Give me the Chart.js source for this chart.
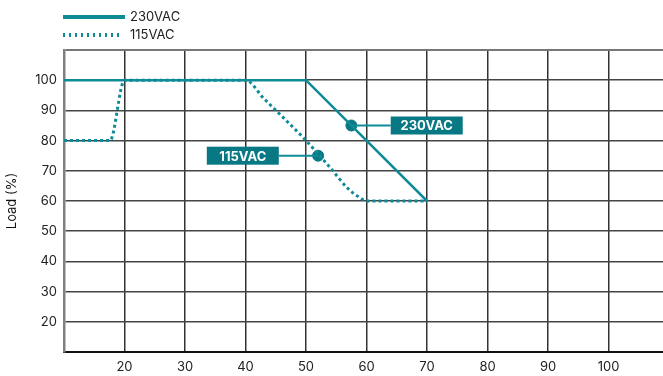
<!DOCTYPE html>
<html>
<head>
<meta charset="utf-8">
<script src="https://cdn.jsdelivr.net/npm/chart.js@4.4.0/dist/chart.umd.min.js"></script>
<style>
  html, body { margin: 0; padding: 0; background: #fff; }
  canvas { display: block; }
</style>
</head>
<body>
<canvas id="chart" width="663" height="376"></canvas>
<script>
// axis ticks
const xTicks = [20, 30, 40, 50, 60, 70, 80, 90, 100];
const yTicks = [20, 30, 40, 50, 60, 70, 80, 90, 100, 110];

// 230VAC derating curve
const temp230 = [10, 50, 70];
const load230 = [100, 100, 60];

// 115VAC derating curve
const temp115 = [10, 17.6, 20, 40, 43, 50, 54, 57, 59, 60, 70];
const load115 = [80, 80, 100, 100, 94, 80, 71, 64, 61, 60, 60];

// callouts: marker point, where the label box starts, label
const calloutNames = ["230VAC", "115VAC"];
const calloutX = [57.5, 52];
const calloutY = [85, 75];
const calloutBoxX = [64, 45.5];

const TEAL = "#0E8B97";
const BOX = "#077884";
const FONT = "Inter, 'DejaVu Sans', sans-serif";

const pts = (xs, ys) => xs.map((x, i) => ({ x: x, y: ys[i] }));

// connector lines from marker to label box
const connectors = calloutNames.map((name, i) => ({
  data: [{ x: calloutX[i], y: calloutY[i] }, { x: calloutBoxX[i], y: calloutY[i] }],
  borderColor: TEAL,
  borderWidth: 2,
  pointRadius: 0,
}));

// legend drawn top-left, stacked
const stackedLegend = {
  id: "stackedLegend",
  afterDraw(chart) {
    const ctx = chart.ctx;
    ctx.save();
    ctx.strokeStyle = TEAL;
    ctx.lineWidth = 4;
    ctx.beginPath();
    ctx.moveTo(63, 17);
    ctx.lineTo(125, 17);
    ctx.stroke();
    ctx.setLineDash([2, 4]);
    ctx.beginPath();
    ctx.moveTo(63, 35);
    ctx.lineTo(122, 35);
    ctx.stroke();
    ctx.setLineDash([]);
    ctx.fillStyle = "#222";
    ctx.font = "13px " + FONT;
    ctx.textBaseline = "middle";
    ctx.fillText("230VAC", 130, 17);
    ctx.fillText("115VAC", 130, 35);
    ctx.restore();
  },
};

// label boxes of the callouts
const calloutBoxes = {
  id: "calloutBoxes",
  afterDatasetsDraw(chart) {
    const ctx = chart.ctx;
    const xs = chart.scales.x, ys = chart.scales.y;
    ctx.save();
    ctx.font = "bold 13px " + FONT;
    ctx.textBaseline = "middle";
    ctx.textAlign = "center";
    calloutNames.forEach((name, i) => {
      const px = xs.getPixelForValue(calloutBoxX[i]);
      const py = ys.getPixelForValue(calloutY[i]);
      const w = 72, h = 18;
      const left = calloutBoxX[i] > calloutX[i] ? px : px - w;
      ctx.fillStyle = BOX;
      ctx.fillRect(left, py - h / 2, w, h);
      ctx.fillStyle = "#fff";
      ctx.fillText(name, left + w / 2, py + 1);
    });
    ctx.restore();
  },
};

new Chart(document.getElementById("chart"), {
  type: "line",
  data: {
    datasets: [
      {
        label: "230VAC",
        data: pts(temp230, load230),
        borderColor: TEAL,
        borderWidth: 2.5,
        pointRadius: 0,
      },
      {
        label: "115VAC",
        data: pts(temp115, load115),
        borderColor: TEAL,
        borderWidth: 3,
        borderDash: [3, 3],
        pointRadius: 0,
        cubicInterpolationMode: "monotone",
      },
      ...connectors,
      {
        type: "scatter",
        label: "markers",
        data: pts(calloutX, calloutY),
        backgroundColor: BOX,
        borderColor: BOX,
        pointRadius: 5.5,
      },
    ],
  },
  options: {
    responsive: false,
    animation: false,
    devicePixelRatio: 1,
    layout: { autoPadding: false, padding: { top: 50, left: 0, right: 0, bottom: 0 } },
    plugins: { legend: { display: false }, tooltip: { enabled: false } },
    scales: {
      x: {
        type: "linear",
        min: 10,
        max: 109,
        afterBuildTicks: (scale) => { scale.ticks = xTicks.map((v) => ({ value: v })); },
        afterFit: (scale) => { scale.height = 24; },
        grid: { color: "#333", lineWidth: 1.5, drawTicks: false },
        border: { color: "#111", width: 2 },
        ticks: { padding: 7, color: "#222", font: { family: FONT, size: 13 } },
      },
      y: {
        min: 10,
        max: 110,
        afterBuildTicks: (scale) => { scale.ticks = yTicks.map((v) => ({ value: v })); },
        afterFit: (scale) => { scale.width = 64; },
        grid: { color: (c) => (c.tick && c.tick.value === 110 ? "#777" : "#444"), lineWidth: (c) => (c.tick && c.tick.value === 110 ? 2 : 1.5), drawTicks: false },
        border: { color: "#808080", width: 2.5 },
        ticks: {
          padding: 7,
          color: "#222",
          font: { family: FONT, size: 13 },
          callback: (v) => (v === 110 ? "" : v),
        },
        title: { display: true, text: "Load (%)", color: "#111", font: { family: FONT, size: 13 }, padding: { top: 4, bottom: 0 } },
      },
    },
  },
  plugins: [stackedLegend, calloutBoxes],
});
</script>
</body>
</html>
